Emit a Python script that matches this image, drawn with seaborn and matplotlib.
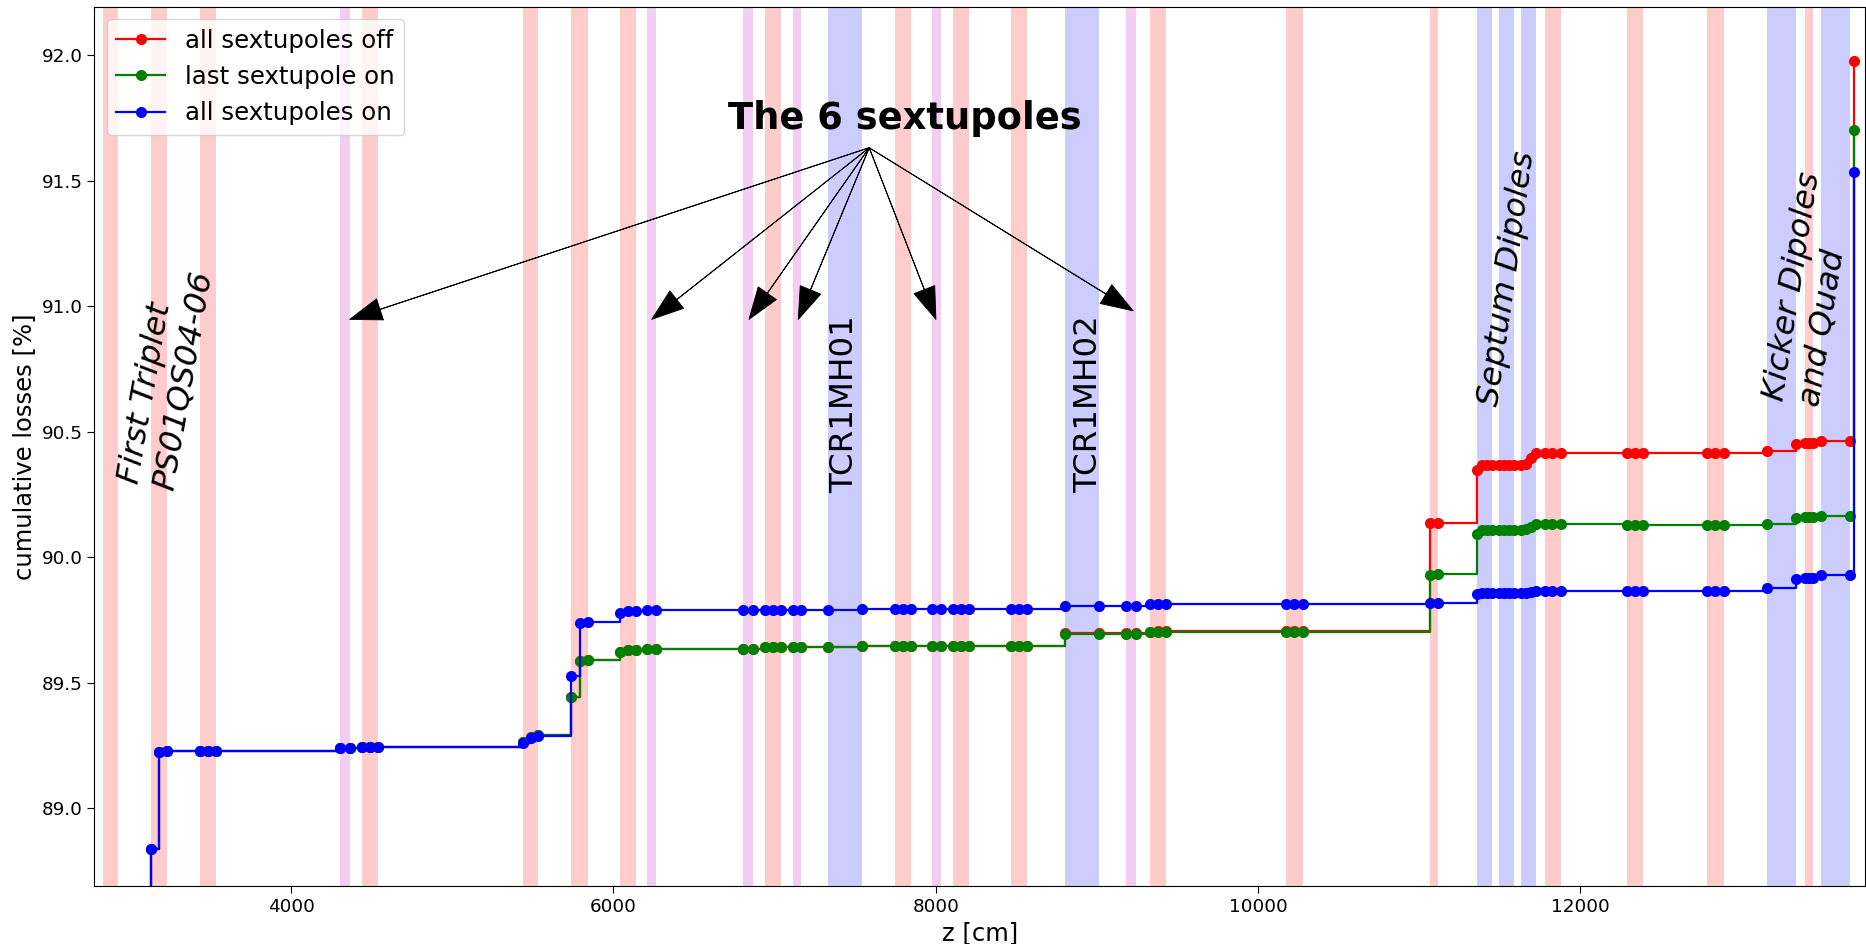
import matplotlib
matplotlib.use("Agg")
import matplotlib.pyplot as plt
import numpy as np
import pandas as pd
import seaborn as sns

# ---------------- data ----------------
z_cm = [2928, 3132, 3181, 3232, 3433, 3484, 3536, 4302, 4363, 4439, 4488, 4537,
        5440, 5486, 5533, 5734, 5790, 5839, 6040, 6090, 6138, 6210, 6264,
        6806, 6864, 6940, 6988, 7037, 7111, 7164, 7333, 7543,
        7745, 7796, 7848, 7975, 8033, 8109, 8157, 8206, 8465, 8515, 8564,
        8803, 9010, 9181, 9243, 9330, 9378, 9426, 10173, 10224, 10276,
        11068, 11119, 11356, 11388, 11420, 11453, 11496, 11526, 11557, 11587,
        11630, 11662, 11694, 11726, 11778, 11827, 11877,
        12287, 12338, 12390, 12783, 12835, 12890,
        13159, 13341, 13393, 13418, 13443, 13492, 13672, 13699]

loss_all_on = [88.0, 88.838, 89.226, 89.228, 89.228, 89.228, 89.228, 89.241, 89.242, 89.245, 89.245, 89.245,
               89.260, 89.279, 89.289, 89.527, 89.737, 89.741, 89.779, 89.786, 89.787, 89.789, 89.789,
               89.790, 89.790, 89.790, 89.790, 89.790, 89.790, 89.790, 89.790, 89.794,
               89.794, 89.794, 89.794, 89.794, 89.794, 89.794, 89.794, 89.794, 89.794, 89.794, 89.794,
               89.804, 89.804, 89.807, 89.807, 89.813, 89.813, 89.813, 89.813, 89.813, 89.813,
               89.817, 89.817, 89.854, 89.857, 89.857, 89.857, 89.857, 89.857, 89.857, 89.857,
               89.857, 89.858, 89.862, 89.867, 89.867, 89.867, 89.867,
               89.867, 89.867, 89.867, 89.867, 89.867, 89.867,
               89.876, 89.913, 89.916, 89.916, 89.917, 89.929, 89.929, 91.536]

loss_last_on = [88.0, 88.838, 89.226, 89.228, 89.228, 89.228, 89.228, 89.241, 89.242, 89.245, 89.245, 89.245,
                89.262, 89.283, 89.291, 89.445, 89.586, 89.592, 89.624, 89.631, 89.632, 89.633, 89.633,
                89.633, 89.636, 89.641, 89.641, 89.641, 89.641, 89.641, 89.641, 89.645,
                89.645, 89.645, 89.645, 89.645, 89.645, 89.645, 89.645, 89.645, 89.645, 89.645, 89.645,
                89.694, 89.694, 89.694, 89.694, 89.701, 89.704, 89.704, 89.704, 89.704, 89.704,
                89.929, 89.933, 90.093, 90.108, 90.109, 90.109, 90.109, 90.109, 90.109, 90.109,
                90.110, 90.112, 90.122, 90.131, 90.131, 90.131, 90.131,
                90.129, 90.129, 90.129, 90.129, 90.129, 90.129,
                90.132, 90.158, 90.161, 90.161, 90.162, 90.164, 90.164, 91.702]

loss_all_off = [88.0, 88.838, 89.226, 89.228, 89.228, 89.228, 89.228, 89.241, 89.242, 89.245, 89.245, 89.245,
                89.262, 89.283, 89.291, 89.445, 89.586, 89.592, 89.624, 89.631, 89.632, 89.633, 89.633,
                89.633, 89.636, 89.641, 89.641, 89.641, 89.641, 89.641, 89.641, 89.645,
                89.645, 89.645, 89.645, 89.645, 89.645, 89.645, 89.645, 89.645, 89.645, 89.645, 89.645,
                89.697, 89.697, 89.697, 89.697, 89.704, 89.707, 89.707, 89.707, 89.707, 89.707,
                90.138, 90.138, 90.348, 90.366, 90.367, 90.367, 90.367, 90.367, 90.368, 90.368,
                90.369, 90.373, 90.394, 90.416, 90.417, 90.417, 90.417,
                90.416, 90.416, 90.416, 90.416, 90.416, 90.416,
                90.423, 90.452, 90.455, 90.455, 90.456, 90.464, 90.464, 91.977]

series_names = ["all sextupoles off", "last sextupole on", "all sextupoles on"]
series_colors = ["red", "green", "blue"]

# element extents along the line [cm]
quad_bands = [(2832, 2928), (3132, 3232), (3433, 3536), (4439, 4537), (5440, 5533),
              (5734, 5839), (6040, 6138), (6940, 7037), (7745, 7848), (8109, 8206),
              (8465, 8564), (9330, 9426), (10173, 10276), (11068, 11119), (11778, 11877),
              (12287, 12390), (12783, 12890), (13393, 13443)]
sext_bands = [(4302, 4363), (6210, 6264), (6806, 6864), (7111, 7164), (7975, 8033), (9181, 9243)]
dipole_bands = [(7333, 7543), (8803, 9010), (11356, 11453), (11496, 11587), (11630, 11726),
                (13159, 13341), (13492, 13672)]

sext_arrow_z = [4363, 6237, 6841, 7147, 8001, 9225]
sext_arrow_y = [90.948, 90.948, 90.948, 90.948, 90.948, 90.982]

# ---------------- plot ----------------
plt.rcParams["font.family"] = ["DejaVu Sans"]

fig = plt.figure(figsize=(18.66, 9.44), dpi=100)
ax = fig.add_axes([0.0506, 0.0614, 0.9490, 0.9315])

for a, b in quad_bands:
    ax.axvspan(a, b, color="red", alpha=0.2, lw=0, zorder=0)
for a, b in sext_bands:
    ax.axvspan(a, b, color="m", alpha=0.2, lw=0, zorder=0)
for a, b in dipole_bands:
    ax.axvspan(a, b, color="blue", alpha=0.2, lw=0, zorder=0)

df = pd.DataFrame({"z": z_cm,
                   series_names[0]: loss_all_off,
                   series_names[1]: loss_last_on,
                   series_names[2]: loss_all_on})

for name, col in zip(series_names, series_colors):
    sns.lineplot(data=df, x="z", y=name, ax=ax, color=col, label=name,
                 estimator=None, drawstyle="steps-post", marker="o",
                 markersize=8, markeredgewidth=0, markeredgecolor=col,
                 linewidth=1.6)

ax.set_xlim(2779, 13768)
ax.set_ylim(88.690, 92.194)
ax.set_xlabel("z [cm]", fontsize=17.5)
ax.set_ylabel("cumulative losses [%]", fontsize=17.5)
ax.tick_params(axis="both", labelsize=13.2, length=5)

leg = ax.legend(loc="upper left", fontsize=17.6)

# annotations
label_kw = dict(fontsize=23.4, ha="center", va="center")
ax.text(3225, 90.718, "First Triplet\nPS01QS04-06", rotation=80, style="italic",
        multialignment="left", **label_kw)
ax.text(11548, 91.109, "Septum Dipoles", rotation=82, style="italic", **label_kw)
ax.text(13430, 91.069, "Kicker Dipoles\nand Quad", rotation=81, style="italic",
        multialignment="left", **label_kw)
ax.text(7433, 90.611, "TCR1MH01", rotation=90, **label_kw)
ax.text(8946, 90.610, "TCR1MH02", rotation=90, **label_kw)

ax.text(7808, 91.706, "The 6 sextupoles", fontsize=26.6, fontweight="bold",
        ha="center", va="baseline")
for tz, ty in zip(sext_arrow_z, sext_arrow_y):
    ax.annotate("", xy=(tz, ty), xytext=(7587, 91.632),
                arrowprops=dict(facecolor="black", edgecolor="black", width=0.25,
                                headwidth=16, headlength=23, shrink=0.0, lw=0.6))

fig.savefig("out.png", dpi=100)
